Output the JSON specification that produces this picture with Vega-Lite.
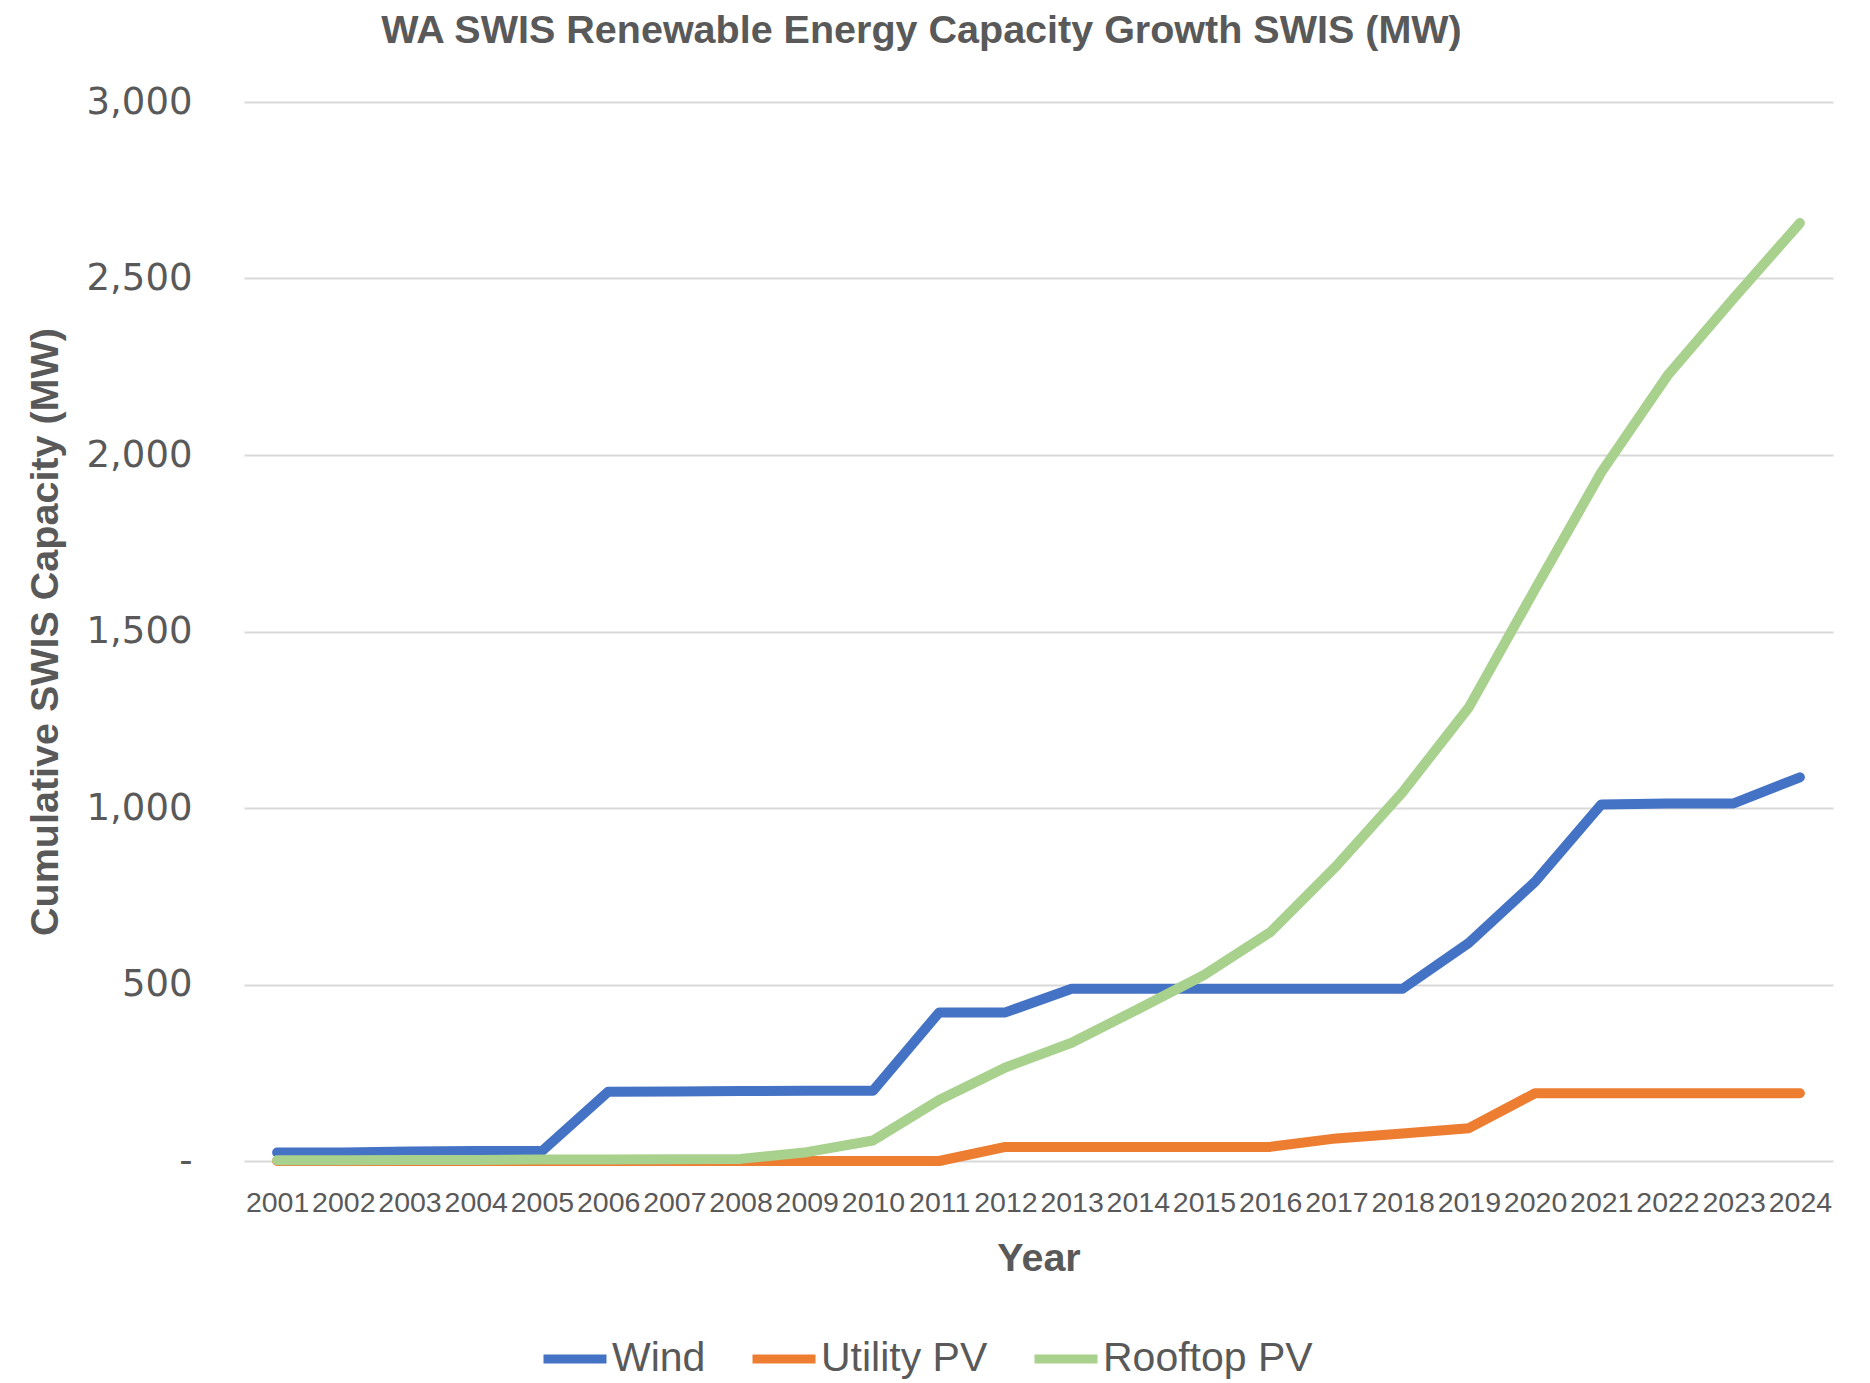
{
  "$schema": "https://vega.github.io/schema/vega-lite/v6.json",
  "width": 1589,
  "height": 1059,
  "autosize": {"type": "none"},
  "padding": {"left": 244, "top": 102, "right": 37, "bottom": 222},
  "background": "white",
  "title": {
    "text": "WA SWIS Renewable Energy Capacity Growth SWIS (MW)",
    "anchor": "middle",
    "frame": "group",
    "dx": -117,
    "dy": 39,
    "offset": 40,
    "baseline": "alphabetic",
    "font": "Liberation Sans",
    "fontSize": 39.5,
    "fontWeight": "bold",
    "color": "#595959"
  },
  "data": {
    "values": [
      {"Year": "2001", "Type": "Wind", "MW": 24},
      {"Year": "2002", "Type": "Wind", "MW": 24},
      {"Year": "2003", "Type": "Wind", "MW": 27},
      {"Year": "2004", "Type": "Wind", "MW": 28},
      {"Year": "2005", "Type": "Wind", "MW": 28},
      {"Year": "2006", "Type": "Wind", "MW": 196},
      {"Year": "2007", "Type": "Wind", "MW": 197},
      {"Year": "2008", "Type": "Wind", "MW": 198},
      {"Year": "2009", "Type": "Wind", "MW": 199},
      {"Year": "2010", "Type": "Wind", "MW": 199},
      {"Year": "2011", "Type": "Wind", "MW": 421},
      {"Year": "2012", "Type": "Wind", "MW": 421},
      {"Year": "2013", "Type": "Wind", "MW": 488},
      {"Year": "2014", "Type": "Wind", "MW": 488},
      {"Year": "2015", "Type": "Wind", "MW": 488},
      {"Year": "2016", "Type": "Wind", "MW": 488},
      {"Year": "2017", "Type": "Wind", "MW": 488},
      {"Year": "2018", "Type": "Wind", "MW": 488},
      {"Year": "2019", "Type": "Wind", "MW": 618},
      {"Year": "2020", "Type": "Wind", "MW": 791},
      {"Year": "2021", "Type": "Wind", "MW": 1010},
      {"Year": "2022", "Type": "Wind", "MW": 1013},
      {"Year": "2023", "Type": "Wind", "MW": 1013},
      {"Year": "2024", "Type": "Wind", "MW": 1087},
      {"Year": "2001", "Type": "Utility PV", "MW": 0},
      {"Year": "2002", "Type": "Utility PV", "MW": 0},
      {"Year": "2003", "Type": "Utility PV", "MW": 0},
      {"Year": "2004", "Type": "Utility PV", "MW": 0},
      {"Year": "2005", "Type": "Utility PV", "MW": 0},
      {"Year": "2006", "Type": "Utility PV", "MW": 0},
      {"Year": "2007", "Type": "Utility PV", "MW": 0},
      {"Year": "2008", "Type": "Utility PV", "MW": 0},
      {"Year": "2009", "Type": "Utility PV", "MW": 0},
      {"Year": "2010", "Type": "Utility PV", "MW": 0},
      {"Year": "2011", "Type": "Utility PV", "MW": 0},
      {"Year": "2012", "Type": "Utility PV", "MW": 40},
      {"Year": "2013", "Type": "Utility PV", "MW": 40},
      {"Year": "2014", "Type": "Utility PV", "MW": 40},
      {"Year": "2015", "Type": "Utility PV", "MW": 40},
      {"Year": "2016", "Type": "Utility PV", "MW": 40},
      {"Year": "2017", "Type": "Utility PV", "MW": 64},
      {"Year": "2018", "Type": "Utility PV", "MW": 78},
      {"Year": "2019", "Type": "Utility PV", "MW": 93},
      {"Year": "2020", "Type": "Utility PV", "MW": 192},
      {"Year": "2021", "Type": "Utility PV", "MW": 192},
      {"Year": "2022", "Type": "Utility PV", "MW": 192},
      {"Year": "2023", "Type": "Utility PV", "MW": 192},
      {"Year": "2024", "Type": "Utility PV", "MW": 192},
      {"Year": "2001", "Type": "Rooftop PV", "MW": 2},
      {"Year": "2002", "Type": "Rooftop PV", "MW": 2},
      {"Year": "2003", "Type": "Rooftop PV", "MW": 3},
      {"Year": "2004", "Type": "Rooftop PV", "MW": 3},
      {"Year": "2005", "Type": "Rooftop PV", "MW": 4},
      {"Year": "2006", "Type": "Rooftop PV", "MW": 4},
      {"Year": "2007", "Type": "Rooftop PV", "MW": 5},
      {"Year": "2008", "Type": "Rooftop PV", "MW": 6},
      {"Year": "2009", "Type": "Rooftop PV", "MW": 25},
      {"Year": "2010", "Type": "Rooftop PV", "MW": 58},
      {"Year": "2011", "Type": "Rooftop PV", "MW": 173},
      {"Year": "2012", "Type": "Rooftop PV", "MW": 265},
      {"Year": "2013", "Type": "Rooftop PV", "MW": 335},
      {"Year": "2014", "Type": "Rooftop PV", "MW": 430},
      {"Year": "2015", "Type": "Rooftop PV", "MW": 527},
      {"Year": "2016", "Type": "Rooftop PV", "MW": 648},
      {"Year": "2017", "Type": "Rooftop PV", "MW": 836},
      {"Year": "2018", "Type": "Rooftop PV", "MW": 1045},
      {"Year": "2019", "Type": "Rooftop PV", "MW": 1285},
      {"Year": "2020", "Type": "Rooftop PV", "MW": 1620},
      {"Year": "2021", "Type": "Rooftop PV", "MW": 1951},
      {"Year": "2022", "Type": "Rooftop PV", "MW": 2225},
      {"Year": "2023", "Type": "Rooftop PV", "MW": 2444},
      {"Year": "2024", "Type": "Rooftop PV", "MW": 2657}
    ]
  },
  "mark": {"type": "line", "strokeWidth": 10, "strokeCap": "round", "strokeJoin": "round"},
  "encoding": {
    "x": {
      "field": "Year",
      "type": "ordinal",
      "scale": {"padding": 0.5},
      "axis": {
        "title": "Year",
        "labelAngle": 0,
        "labelOverlap": false,
        "labelFont": "Liberation Sans",
        "labelFontSize": 28.5,
        "labelColor": "#595959",
        "labelBaseline": "alphabetic",
        "labelPadding": 50,
        "ticks": false,
        "tickSize": 0,
        "domain": false,
        "grid": false,
        "titleFont": "Liberation Sans",
        "titleFontSize": 39.5,
        "titleFontWeight": "bold",
        "titleColor": "#595959",
        "titleX": 794.5,
        "titleY": 109.7,
        "titleBaseline": "alphabetic",
        "titleAlign": "center"
      }
    },
    "y": {
      "field": "MW",
      "type": "quantitative",
      "scale": {"domain": [0, 3000], "nice": false},
      "axis": {
        "title": "Cumulative SWIS Capacity (MW)",
        "values": [0, 500, 1000, 1500, 2000, 2500, 3000],
        "labelExpr": "datum.value === 0 ? '-\u00a0\u00a0' : format(datum.value, ',')",
        "labelFont": "DejaVu Sans",
        "labelFontSize": 37,
        "labelColor": "#595959",
        "labelPadding": 52,
        "ticks": false,
        "tickSize": 0,
        "domain": false,
        "grid": true,
        "gridColor": "#D9D9D9",
        "gridWidth": 2,
        "titleFont": "Liberation Sans",
        "titleFontSize": 39.5,
        "titleFontWeight": "bold",
        "titleColor": "#595959",
        "titleAngle": -90,
        "titleX": -187,
        "titleY": 529.5,
        "titleBaseline": "alphabetic",
        "titleAlign": "center"
      }
    },
    "color": {
      "field": "Type",
      "type": "nominal",
      "sort": null,
      "scale": {
        "domain": ["Wind", "Utility PV", "Rooftop PV"],
        "range": ["#4472C4", "#ED7D31", "#A9D18E"]
      },
      "legend": {
        "orient": "none",
        "legendX": 295,
        "legendY": 1221,
        "direction": "horizontal",
        "title": null,
        "symbolType": "stroke",
        "symbolSize": 3969,
        "symbolStrokeWidth": 9,
        "labelFont": "Liberation Sans",
        "labelFontSize": 41,
        "labelColor": "#595959",
        "labelOffset": 1,
        "columnPadding": 28,
        "labelLimit": 400,
        "padding": 0
      }
    }
  },
  "config": {"view": {"stroke": null}}
}
